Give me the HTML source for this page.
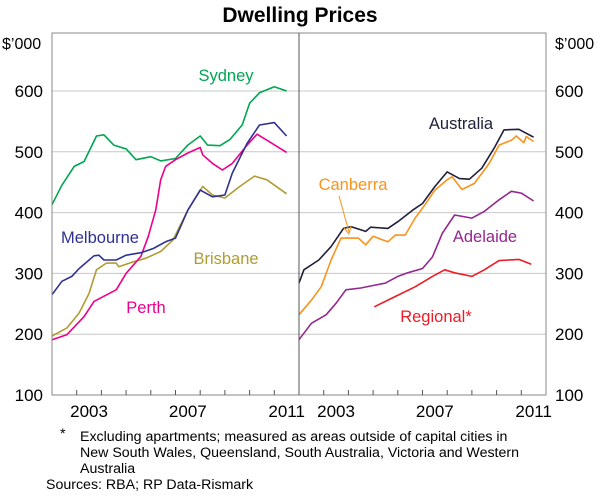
<!DOCTYPE html>
<html><head><meta charset="utf-8"><style>
body{margin:0;background:#fff;}
svg{display:block;font-family:"Liberation Sans",Arial,sans-serif;}
</style></head><body>
<svg id="c" width="600" height="496" viewBox="0 0 600 496">
<text x="300" y="22" text-anchor="middle" font-size="21" font-weight="bold" fill="#000">Dwelling Prices</text>
<g id="grid"></g><g id="series"></g><g id="axes"></g>
<text x="2" y="49" font-size="16">$’000</text>
<text x="555" y="49" font-size="16">$’000</text>
<g font-size="16.5">
<text x="226" y="81" text-anchor="middle" fill="#00a651">Sydney</text>
<text x="100" y="243" text-anchor="middle" fill="#2e3192">Melbourne</text>
<text x="226" y="264" text-anchor="middle" fill="#b19c33">Brisbane</text>
<text x="146" y="313" text-anchor="middle" fill="#ec008c">Perth</text>
<text x="461" y="129" text-anchor="middle" fill="#1f1f3a">Australia</text>
<text x="353" y="190" text-anchor="middle" fill="#f7941d">Canberra</text>
<text x="485" y="242" text-anchor="middle" fill="#92278f">Adelaide</text>
<text x="436" y="322" text-anchor="middle" fill="#ed1c24">Regional*</text>
</g>
<line x1="339" y1="196" x2="349" y2="232" stroke="#f7941d" stroke-width="1"/>
<path d="M344,228 L349,234 L351,226" fill="none" stroke="#f7941d" stroke-width="1"/>
<g font-size="14.2" fill="#000">
<text x="60" y="438">*</text>
<text x="80" y="441">Excluding apartments; measured as areas outside of capital cities in</text>
<text x="80" y="457">New South Wales, Queensland, South Australia, Victoria and Western</text>
<text x="80" y="473">Australia</text>
<text x="46" y="489">Sources: RBA; RP Data-Rismark</text>
</g>
</svg>
<script>
const yTicks=[100,200,300,400,500,600];
const xTickLabels=[2003,2007,2011];
const sydneyYears=[2002.0,2002.4,2002.9,2003.3,2003.8,2004.1,2004.5,2004.9,2005.0,2005.4,2006.0,2006.4,2007.0,2007.5,2008.0,2008.3,2008.8,2009.2,2009.7,2010.0,2010.4,2011.0,2011.5];
const sydneyValues=[413,445,476,484,526,528,511,506,505,487,492,485,489,511,526,511,510,520,544,580,597,607,600];
const melbourneYears=[2002.0,2002.4,2002.8,2003.1,2003.7,2003.9,2004.1,2004.6,2005.0,2005.6,2006.1,2006.6,2007.0,2007.5,2008.0,2008.5,2009.0,2009.3,2009.9,2010.4,2011.0,2011.5];
const melbourneValues=[265,287,295,308,329,330,322,322,330,334,341,352,358,404,437,426,429,465,514,544,548,526];
const perthYears=[2002.0,2002.6,2003.3,2003.7,2004.6,2005.0,2005.6,2005.9,2006.2,2006.4,2006.6,2007.0,2007.5,2008.0,2008.1,2008.5,2008.9,2009.3,2009.9,2010.3,2010.7,2011.5];
const perthValues=[191,199,229,254,273,300,328,361,404,454,476,487,498,507,495,481,470,481,511,529,519,499];
const brisbaneYears=[2002.0,2002.6,2003.1,2003.5,2003.8,2004.2,2004.6,2004.7,2005.3,2005.8,2006.4,2006.9,2007.5,2008.1,2008.5,2009.0,2009.6,2010.2,2010.7,2011.5];
const brisbaneValues=[197,210,235,267,306,317,317,311,319,325,336,355,404,443,429,424,443,460,454,431];
const australiaYears=[2002.0,2002.2,2002.8,2003.3,2003.8,2004.1,2004.7,2004.9,2005.6,2006.0,2006.6,2007.0,2007.5,2008.0,2008.5,2008.9,2009.4,2009.9,2010.3,2010.9,2011.5];
const australiaValues=[284,306,322,344,374,377,369,376,374,385,404,415,443,467,456,455,473,506,536,537,524];
const canberraYears=[2002.0,2002.5,2002.9,2003.3,2003.7,2004.4,2004.7,2005.0,2005.6,2005.9,2006.3,2006.7,2007.1,2007.5,2008.0,2008.2,2008.6,2009.1,2009.7,2010.1,2010.6,2010.8,2011.1,2011.2,2011.5];
const canberraValues=[232,256,278,322,358,358,347,361,352,363,363,391,413,437,454,459,438,448,481,511,519,526,515,525,517];
const adelaideYears=[2002.0,2002.5,2003.1,2003.5,2003.9,2004.5,2005.1,2005.5,2006.0,2006.4,2007.0,2007.4,2007.8,2008.3,2009.0,2009.5,2010.1,2010.6,2011.0,2011.5];
const adelaideValues=[191,218,232,251,273,276,281,284,295,301,308,327,366,396,391,402,421,435,432,419];
const regionalYears=[2005.05,2005.9,2006.7,2007.4,2007.9,2008.3,2009.0,2009.5,2010.1,2010.9,2011.4];
const regionalValues=[245,262,278,295,306,301,295,306,321,323,315];

const NS='http://www.w3.org/2000/svg';
const yTop=33,yBot=395;
function yS(v){return 395-(v-100)*0.608;}
function xL(t){return 52+(t-2002)*24.7;}
function xR(t){return 299+(t-2002)*24.7;}
function mk(tag,attrs,parent){const e=document.createElementNS(NS,tag);for(const k in attrs)e.setAttribute(k,attrs[k]);parent.appendChild(e);return e;}
const grid=document.getElementById('grid'),ser=document.getElementById('series'),ax=document.getElementById('axes');
yTicks.forEach(v=>{
  if(v>100){const g=mk('line',{x1:52,x2:546,y1:yS(v),y2:yS(v),stroke:'#c8c8c8','stroke-width':1},grid);
  
  }
  const tl=mk('text',{x:43,y:yS(v)+6,'text-anchor':'end','font-size':17},ax);tl.textContent=v;
  
  
  const tr=mk('text',{x:555,y:yS(v)+6,'font-size':17},ax);tr.textContent=v;
  
  
});
const fr=mk('rect',{x:52,y:yTop,width:494,height:yBot-yTop,fill:'none',stroke:'#8a8a8a','stroke-width':1},ax);


const dv=mk('line',{x1:299,x2:299,y1:yTop,y2:yBot,stroke:'#555','stroke-width':1},ax);


[xL,xR].forEach((xf,pi)=>{
  for(let yr=2003;yr<=2011;yr++){
    const t=mk('line',{x1:xf(yr),x2:xf(yr),y1:yBot,y2:yBot-5,stroke:'#555','stroke-width':1},ax);
    
    
  }
  xTickLabels.forEach(yr=>{
    const l=mk('text',{x:xf(yr+0.5),y:417,'text-anchor':'middle','font-size':17},ax);l.textContent=yr;
    
    
  });
});
function line(xs,vs,xf,color,name){
  const d=xs.map((t,i)=>(i?'L':'M')+xf(t).toFixed(1)+','+yS(vs[i]).toFixed(1)).join(' ');
  const p=mk('path',{d:d,fill:'none',stroke:color,'stroke-width':1.6,'stroke-linejoin':'round'},ser);
  
  
}
line(sydneyYears,sydneyValues,xL,'#00a651','sydney-line');
line(brisbaneYears,brisbaneValues,xL,'#b19c33','brisbane-line');
line(perthYears,perthValues,xL,'#ec008c','perth-line');
line(melbourneYears,melbourneValues,xL,'#2e3192','melbourne-line');
line(regionalYears,regionalValues,xR,'#ed1c24','regional-line');
line(adelaideYears,adelaideValues,xR,'#92278f','adelaide-line');
line(canberraYears,canberraValues,xR,'#f7941d','canberra-line');
line(australiaYears,australiaValues,xR,'#1f1f3a','australia-line');
</script>
</body></html>
